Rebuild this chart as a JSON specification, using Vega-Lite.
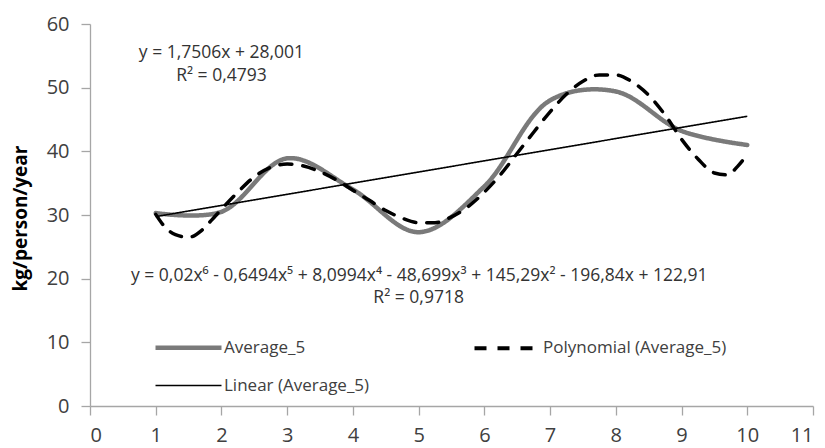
{
  "$schema": "https://vega.github.io/schema/vega-lite/v6.json",
  "width": 723,
  "height": 382,
  "autosize": "none",
  "padding": {"left": 90, "top": 24, "right": 12, "bottom": 42},
  "background": "white",
  "config": {
    "view": {"stroke": null},
    "font": "Open Sans",
    "axis": {"grid": false, "domainColor": "#a6a6a6", "tickColor": "#a6a6a6", "domainWidth": 1.3, "tickWidth": 1.3, "tickSize": 9, "labelFontSize": 20, "labelColor": "#404040", "labelPadding": 10}
  },
  "datasets": {
    "avg": [
      {"series": "Average_5", "x": 1, "y": 30.3},
      {"series": "Average_5", "x": 2, "y": 30.5},
      {"series": "Average_5", "x": 3, "y": 38.9},
      {"series": "Average_5", "x": 4, "y": 34.0},
      {"series": "Average_5", "x": 5, "y": 27.3},
      {"series": "Average_5", "x": 6, "y": 34.5},
      {"series": "Average_5", "x": 7, "y": 48.0},
      {"series": "Average_5", "x": 8, "y": 49.4},
      {"series": "Average_5", "x": 9, "y": 43.2},
      {"series": "Average_5", "x": 10, "y": 41.0}
    ],
    "poly": [
      {"series": "Polynomial (Average_5)", "x": 1.0, "y": 30.1},
      {"series": "Polynomial (Average_5)", "x": 1.15, "y": 28.0},
      {"series": "Polynomial (Average_5)", "x": 1.3, "y": 26.9},
      {"series": "Polynomial (Average_5)", "x": 1.5, "y": 26.5},
      {"series": "Polynomial (Average_5)", "x": 1.7, "y": 27.6},
      {"series": "Polynomial (Average_5)", "x": 1.85, "y": 29.2},
      {"series": "Polynomial (Average_5)", "x": 2.0, "y": 30.9},
      {"series": "Polynomial (Average_5)", "x": 2.25, "y": 33.6},
      {"series": "Polynomial (Average_5)", "x": 2.5, "y": 36.0},
      {"series": "Polynomial (Average_5)", "x": 2.75, "y": 37.5},
      {"series": "Polynomial (Average_5)", "x": 3.0, "y": 38.0},
      {"series": "Polynomial (Average_5)", "x": 3.25, "y": 37.7},
      {"series": "Polynomial (Average_5)", "x": 3.5, "y": 36.8},
      {"series": "Polynomial (Average_5)", "x": 3.75, "y": 35.5},
      {"series": "Polynomial (Average_5)", "x": 4.0, "y": 33.9},
      {"series": "Polynomial (Average_5)", "x": 4.25, "y": 32.3},
      {"series": "Polynomial (Average_5)", "x": 4.5, "y": 30.7},
      {"series": "Polynomial (Average_5)", "x": 4.75, "y": 29.5},
      {"series": "Polynomial (Average_5)", "x": 5.0, "y": 28.8},
      {"series": "Polynomial (Average_5)", "x": 5.25, "y": 28.8},
      {"series": "Polynomial (Average_5)", "x": 5.5, "y": 29.7},
      {"series": "Polynomial (Average_5)", "x": 5.75, "y": 31.3},
      {"series": "Polynomial (Average_5)", "x": 6.0, "y": 33.6},
      {"series": "Polynomial (Average_5)", "x": 6.25, "y": 36.4},
      {"series": "Polynomial (Average_5)", "x": 6.5, "y": 39.7},
      {"series": "Polynomial (Average_5)", "x": 6.75, "y": 43.0},
      {"series": "Polynomial (Average_5)", "x": 7.0, "y": 46.2},
      {"series": "Polynomial (Average_5)", "x": 7.25, "y": 49.0},
      {"series": "Polynomial (Average_5)", "x": 7.5, "y": 51.0},
      {"series": "Polynomial (Average_5)", "x": 7.75, "y": 52.0},
      {"series": "Polynomial (Average_5)", "x": 8.0, "y": 52.0},
      {"series": "Polynomial (Average_5)", "x": 8.25, "y": 50.9},
      {"series": "Polynomial (Average_5)", "x": 8.5, "y": 48.8},
      {"series": "Polynomial (Average_5)", "x": 8.75, "y": 45.7},
      {"series": "Polynomial (Average_5)", "x": 9.0, "y": 41.9},
      {"series": "Polynomial (Average_5)", "x": 9.25, "y": 38.8},
      {"series": "Polynomial (Average_5)", "x": 9.5, "y": 36.6},
      {"series": "Polynomial (Average_5)", "x": 9.7, "y": 36.3},
      {"series": "Polynomial (Average_5)", "x": 9.85, "y": 37.6},
      {"series": "Polynomial (Average_5)", "x": 10.0, "y": 39.5}
    ],
    "lin": [
      {"series": "Linear (Average_5)", "x": 1, "y": 29.75},
      {"series": "Linear (Average_5)", "x": 10, "y": 45.51}
    ]
  },
  "layer": [
    {
      "encoding": {
        "x": {"field": "x", "type": "quantitative", "scale": {"domain": [0, 11], "nice": false}, "axis": {"values": [0, 1, 2, 3, 4, 5, 6, 7, 8, 9, 10, 11], "format": "d", "title": null}},
        "y": {"field": "y", "type": "quantitative", "scale": {"domain": [0, 60], "nice": false}, "axis": {"values": [0, 10, 20, 30, 40, 50, 60], "format": "d", "title": "kg/person/year", "titleFontSize": 19, "titleFontWeight": "bold", "titleColor": "#000000", "titleX": -70, "titleY": 194, "titleAngle": -90, "titleAlign": "center", "titleBaseline": "middle", "labelPadding": 12}},
        "color": {
          "field": "series", "type": "nominal", "sort": null,
          "scale": {"domain": ["Average_5", "Polynomial (Average_5)", "Linear (Average_5)"], "range": ["#7a7a7a", "#000000", "#000000"]},
          "legend": {"title": null, "orient": "none", "direction": "horizontal", "legendX": 80, "legendY": 305, "columns": 2, "columnPadding": 96, "rowPadding": 10, "symbolType": "M-2,0H2", "symbolSize": 1089, "labelFontSize": 17, "labelColor": "#404040", "labelOffset": 17, "labelLimit": 400,
            "values": ["Average_5", "Polynomial (Average_5)", "Linear (Average_5)"],
            "encode": {"symbols": {"update": {"strokeWidth": {"signal": "(datum.value === 'Average_5' ? 4.5 : (datum.value === 'Linear (Average_5)' ? 1.6 : 4))"}}}}}
        },
        "strokeDash": {
          "field": "series", "type": "nominal", "sort": null,
          "scale": {"domain": ["Average_5", "Polynomial (Average_5)", "Linear (Average_5)"], "range": [[1, 0], [12, 11], [1, 0]]},
          "legend": {"title": null, "orient": "none", "direction": "horizontal", "legendX": 80, "legendY": 305, "columns": 2, "columnPadding": 96, "rowPadding": 10, "symbolType": "M-2,0H2", "symbolSize": 1089, "labelFontSize": 17, "labelColor": "#404040", "labelOffset": 17, "labelLimit": 400,
            "values": ["Average_5", "Polynomial (Average_5)", "Linear (Average_5)"],
            "encode": {"symbols": {"update": {"strokeWidth": {"signal": "(datum.value === 'Average_5' ? 4.5 : (datum.value === 'Linear (Average_5)' ? 1.6 : 4))"}}}}}
        }
      },
      "layer": [
        {"data": {"name": "avg"}, "mark": {"type": "line", "interpolate": "catmull-rom", "strokeWidth": 4.5, "strokeCap": "round"}},
        {"data": {"name": "poly"}, "mark": {"type": "line", "interpolate": "monotone", "strokeWidth": 3.5, "strokeCap": "round"}},
        {"data": {"name": "lin"}, "mark": {"type": "line", "strokeWidth": 1.6}}
      ]
    },
    {
      "data": {"values": [{}]},
      "mark": {"type": "text", "text": "y = 1,7506x + 28,001", "fontSize": 17.5, "color": "#333333", "align": "center", "baseline": "middle"},
      "encoding": {"x": {"datum": 2.0}, "y": {"datum": 55.4}}
    },
    {
      "data": {"values": [{}]},
      "mark": {"type": "text", "text": "R² = 0,4793", "fontSize": 17.5, "color": "#333333", "align": "center", "baseline": "middle"},
      "encoding": {"x": {"datum": 2.0}, "y": {"datum": 51.8}}
    },
    {
      "data": {"values": [{}]},
      "mark": {"type": "text", "text": "y = 0,02x⁶ - 0,6494x⁵ + 8,0994x⁴ - 48,699x³ + 145,29x² - 196,84x + 122,91", "fontSize": 17.5, "color": "#333333", "align": "center", "baseline": "middle"},
      "encoding": {"x": {"datum": 5.01}, "y": {"datum": 20.4}}
    },
    {
      "data": {"values": [{}]},
      "mark": {"type": "text", "text": "R² = 0,9718", "fontSize": 17.5, "color": "#333333", "align": "center", "baseline": "middle"},
      "encoding": {"x": {"datum": 5.0}, "y": {"datum": 17.0}}
    }
  ]
}
